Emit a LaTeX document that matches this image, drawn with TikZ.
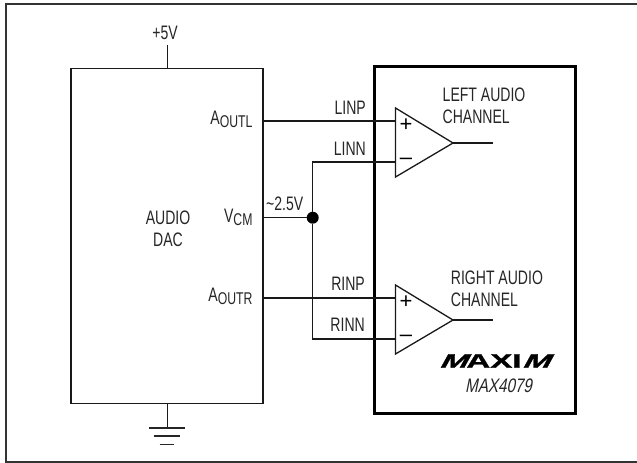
\documentclass[tikz,border=0pt]{standalone}
\usepackage{fontspec}
\setmainfont[FakeStretch=0.72]{Liberation Sans}
\newfontfamily\signfont{Liberation Sans}
\newfontfamily\logofont[FakeStretch=1.7,FakeBold=1.5]{Liberation Sans Bold}
\newfontfamily\logoslant[FakeStretch=1.7,FakeBold=1.5,FakeSlant=0.55]{Liberation Sans Bold}
\newcommand{\subpin}[1]{\raisebox{-3pt}{\fontsize{17}{17}\selectfont #1}}
\tikzset{
	wire/.style={line width=1.3pt,color=black!90},
	lab/.style={inner sep=0pt,color=black!85,font=\fontsize{19.5}{22}\selectfont},
	sign/.style={inner sep=0pt,font=\signfont\fontsize{22}{22}\selectfont}
}
\begin{document}
\begin{tikzpicture}[x=1pt,y=-1pt,line cap=butt,line join=miter]
	\useasboundingbox (0,0) rectangle (637,463);
	\fill[white] (0,0) rectangle (637,463);
	\draw[line width=2pt,color=black!80] (640,4) -- (5.5,4) -- (5.5,461.5) -- (640,461.5);
	% boxes
	\node[draw,wire,minimum width=192pt,minimum height=335pt,inner sep=0pt] (dac) at (167,235.8) {};
	\node[draw,line width=3.6pt,minimum width=201pt,minimum height=347pt,inner sep=0pt] (chip) at (475,240) {};
	\node[lab,align=center] (dacname) at (168,228.5) {AUDIO\\DAC};
	% op amps
	\foreach \name/\y in {l/143,r/320}{
		\coordinate (\name top) at (395.5,\y-35);
		\coordinate (\name bot) at (395.5,\y+34);
		\coordinate (\name tip) at (453,\y);
		\coordinate (\name out) at (493,\y);
		\coordinate (\name p) at (395.5,\y-22);
		\coordinate (\name n) at (395.5,\y+19);
		\draw[wire] (\name top) -- (\name tip) -- (\name bot) -- cycle;
		\draw[wire] (\name tip) -- (\name out);
		\node[sign] (\name plus) at (406,\y-17.5) {+};
		\node[sign] (\name minus) at (406,\y+18.5) {–};
	}
	% pins of the dac
	\coordinate (aoutl) at (dac.east |- lp);
	\coordinate (aoutr) at (dac.east |- rp);
	\coordinate (vcm) at (dac.east |- 0,217.7);
	\node[circle,fill=black,inner sep=0pt,minimum size=12pt] (jn) at (312.7,217.7) {};
	\draw[wire] (aoutl) -- (lp);
	\draw[wire] (aoutr) -- (rp);
	\draw[wire] (vcm) -- (jn);
	\draw[wire] (ln) -| (jn);
	\draw[wire] (rn) -| (jn);
	% supply and ground
	\coordinate (vdd) at (167.5,45);
	\coordinate (gnd) at (167.5,428);
	\draw[wire] (vdd) -- (vdd |- dac.north);
	\draw[wire] (dac.south -| gnd) -- (gnd);
	\draw[line width=1.8pt,color=black!85] (149,428) -- (184.5,428);
	\draw[line width=1.8pt,color=black!85] (153.5,436.3) -- (180,436.3);
	\draw[line width=1.8pt,color=black!85] (159.5,444.5) -- (174,444.5);
	% labels
	\node[lab,anchor=base] (vddlab) at (165,39) {+5V};
	\node[lab,anchor=base east] (linp) at (366,114) {LINP};
	\node[lab,anchor=base east] (linn) at (366,155.7) {LINN};
	\node[lab,anchor=base east] (rinp) at (365,290) {RINP};
	\node[lab,anchor=base east] (rinn) at (365,331.7) {RINN};
	\node[lab,anchor=base east] (aoutllab) at (252.7,124) {A\subpin{OUTL}};
	\node[lab,anchor=base east] (vcmlab) at (252.7,222) {V\subpin{CM}};
	\node[lab,anchor=base east] (aoutrlab) at (252.7,301.5) {A\subpin{OUTR}};
	\node[lab,anchor=base west] (midv) at (266,210.7) {\textasciitilde2.5V};
	\node[lab,align=left,anchor=west] (leftch) at (442.5,106) {LEFT AUDIO\\CHANNEL};
	\node[lab,align=left,anchor=west] (rightch) at (450.7,289) {RIGHT AUDIO\\CHANNEL};
	\node[inner sep=0pt,anchor=base] (logo) at (494,367.7) {\fontsize{19.5}{20}\selectfont{\logoslant M}{\logofont AXI}{\logoslant M}};
	\node[lab,anchor=base] (part) at (498.5,392.5) {\addfontfeature{FakeSlant=0.2,FakeStretch=0.78}MAX4079};
\end{tikzpicture}
\end{document}
